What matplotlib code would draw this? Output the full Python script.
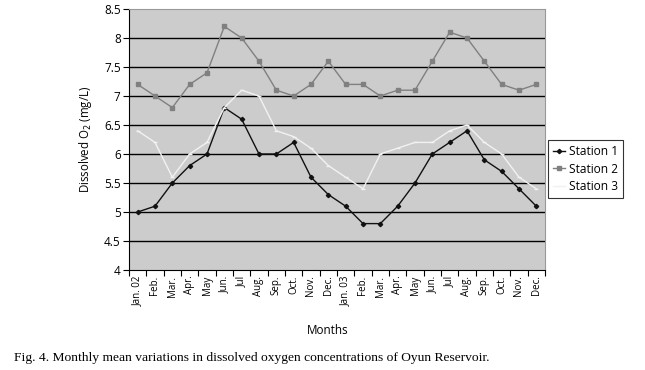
import matplotlib
matplotlib.use("Agg")
import matplotlib.pyplot as plt
import numpy as np

months = ["Jan. 02", "Feb.", "Mar.", "Apr.", "May", "Jun.", "Jul", "Aug.", "Sep.", "Oct.", "Nov.", "Dec.",
          "Jan. 03", "Feb.", "Mar.", "Apr.", "May", "Jun.", "Jul", "Aug.", "Sep.", "Oct.", "Nov.", "Dec."]
station1 = [5.0, 5.1, 5.5, 5.8, 6.0, 6.8, 6.6, 6.0, 6.0, 6.2, 5.6, 5.3,
            5.1, 4.8, 4.8, 5.1, 5.5, 6.0, 6.2, 6.4, 5.9, 5.7, 5.4, 5.1]
station2 = [7.2, 7.0, 6.8, 7.2, 7.4, 8.2, 8.0, 7.6, 7.1, 7.0, 7.2, 7.6,
            7.2, 7.2, 7.0, 7.1, 7.1, 7.6, 8.1, 8.0, 7.6, 7.2, 7.1, 7.2]
station3 = [6.4, 6.2, 5.6, 6.0, 6.2, 6.8, 7.1, 7.0, 6.4, 6.3, 6.1, 5.8,
            5.6, 5.4, 6.0, 6.1, 6.2, 6.2, 6.4, 6.5, 6.2, 6.0, 5.6, 5.4]
yticks = [4, 4.5, 5, 5.5, 6, 6.5, 7, 7.5, 8, 8.5]
ytick_labels = ["4", "4.5", "5", "5.5", "6", "6.5", "7", "7.5", "8", "8.5"]

plt.rcParams['font.family'] = ['Open Sans', 'DejaVu Sans']

fig = plt.figure(figsize=(6.45, 3.70), dpi=100)
ax = fig.add_axes([129/645, 1-270/370, (545-129)/645, (270-9)/370])
ax.set_facecolor('#cccccc')

x = np.arange(len(months))
ax.plot(x, station1, color='#111111', lw=1.0, marker='D', ms=2.2, label='Station 1', zorder=3)
ax.plot(x, station2, color='#808080', lw=1.0, marker='s', ms=2.2, label='Station 2', zorder=3)
ax.plot(x, station3, color='#f2f2f2', lw=1.0, marker='_', ms=3, mew=1, label='Station 3', zorder=3)

ax.set_xlim(-0.5, len(months) - 0.5)
ax.set_ylim(4, 8.5)
ax.set_yticks(yticks)
ax.set_yticklabels(ytick_labels, fontsize=8.5)
for y in yticks[1:-1]:
    ax.axhline(y, color='black', lw=1.0, zorder=1)

ax.set_xticks(np.arange(-0.5, len(months) + 0.5), minor=False)
ax.set_xticklabels([])
ax.set_xticks(x, minor=True)
ax.set_xticklabels(months, minor=True, rotation=90, fontsize=7)
ax.tick_params(axis='x', which='minor', length=0, pad=4)
ax.tick_params(axis='x', which='major', length=4, direction='out', width=0.8)
ax.tick_params(axis='y', length=4, direction='out', width=0.8, pad=2)

for s in ['top', 'right']:
    ax.spines[s].set_color('#999999')
    ax.spines[s].set_linewidth(0.8)
for s in ['left', 'bottom']:
    ax.spines[s].set_color('black')
    ax.spines[s].set_linewidth(0.8)

ax.set_ylabel('Dissolved O$_2$ (mg/L)', fontsize=8.3, labelpad=7)
fig.text(328/645, 1-330/370, 'Months', fontsize=8.4, ha='center', va='center')

leg = ax.legend(loc='upper left', bbox_to_anchor=(548/645, 1-140/370), bbox_transform=fig.transFigure,
                fontsize=8.6, frameon=True, fancybox=False, handlelength=1.0, handletextpad=0.3,
                borderpad=0.45, labelspacing=0.35, borderaxespad=0)
leg.get_frame().set_edgecolor('black')
leg.get_frame().set_linewidth(0.8)

fig.text(14/645, 1-358/370, 'Fig. 4. Monthly mean variations in dissolved oxygen concentrations of Oyun Reservoir.',
         fontsize=9.7, family=['Liberation Serif', 'DejaVu Serif'], ha='left', va='center')

fig.savefig('out.png', dpi=100, facecolor='white')
